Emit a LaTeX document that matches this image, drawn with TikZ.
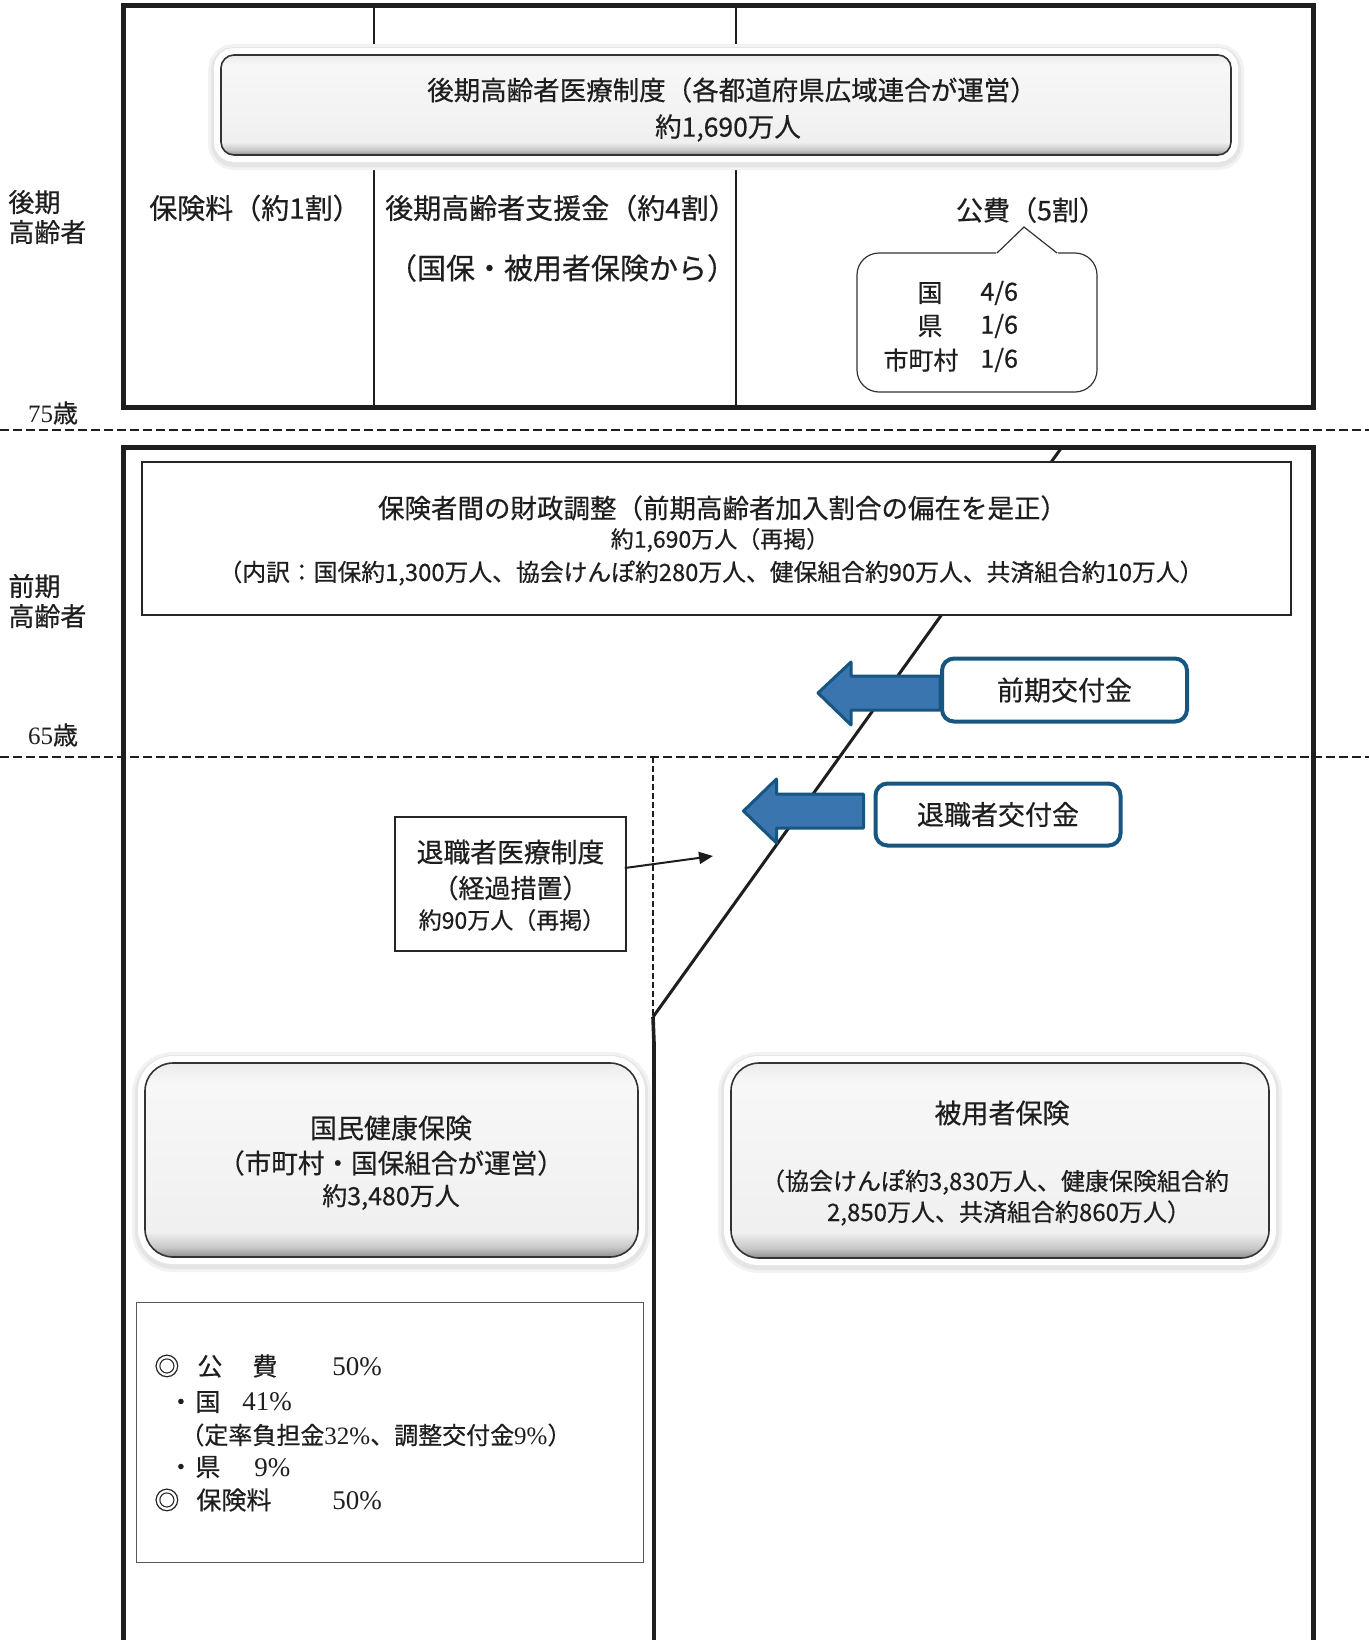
\documentclass[tikz,border=0pt]{standalone}
\usepackage{fontspec}
\setmainfont{Noto Sans CJK JP}[FakeBold=0.5]
\newfontfamily\sr{Liberation Serif}
\usetikzlibrary{arrows.meta,calc}
\pgfdeclareverticalshading{glossfill}{100bp}{color(0bp)=(black!45); color(25bp)=(black!45); color(27.5bp)=(black!22); color(31.5bp)=(black!6); color(70bp)=(black!3); color(75bp)=(black!8); color(100bp)=(black!8)}
\definecolor{bluebord}{RGB}{22,86,128}
\definecolor{bluefill}{RGB}{58,117,176}
\definecolor{ink}{RGB}{30,30,30}
\newcommand\dg[1]{{\sr\fontsize{13.5}{14}\selectfont #1}}
\tikzset{
  frame/.style={line width=2.5pt, draw=ink},
  colline/.style={line width=1.2pt, draw=ink},
  dashline/.style={line width=1.2pt, draw=ink, dash pattern=on 4.5pt off 2pt},
  vdash/.style={line width=1pt, draw=ink, dash pattern=on 3pt off 1.5pt},
  diag/.style={line width=1.5pt, draw=ink},
  glossbox/.style={rounded corners=#1, draw=black!80, line width=0.8pt, shading=glossfill,
    preaction={draw=black!5, line width=13pt, transform canvas={yshift=-1pt}},
    preaction={draw=black!10, line width=10pt, transform canvas={yshift=-1pt}},
    preaction={draw=white, line width=7pt}},
  rectbox/.style={draw=black!85, line width=0.8pt, fill=white, inner sep=0pt},
  thinbox/.style={draw=black!65, line width=0.5pt, fill=white, inner sep=0pt},
  bluebox/.style={draw=bluebord, line width=2pt, rounded corners=6pt, fill=white, inner sep=0pt, font=\fontsize{13.5}{16}\selectfont, text=ink},
  blockarrow/.style={fill=bluefill, draw=bluebord, line width=1.5pt, line join=round},
  smallarr/.style={line width=1pt, draw=ink, -{Triangle[length=7pt,width=6pt]}},
  callout/.style={draw=black!80, line width=0.6pt, fill=white},
  fs/.style={font=\fontsize{#1}{#1}\selectfont, inner sep=0pt, text=ink},
  lab/.style={font=\fontsize{13}{15}\selectfont, inner sep=0pt, align=left, anchor=west, text=ink},
  age/.style={font=\fontsize{12.5}{14}\selectfont, inner sep=0pt, text=ink},
}
\begin{document}
\begin{tikzpicture}[x=0.5pt,y=-0.5pt]
\useasboundingbox[fill=white] (0,0) rectangle (1369,1640);

% ---------- upper frame (75+)
\draw[frame] (123,5) rectangle (1313,407);
\draw[colline] (374,5) -- (374,407);
\draw[colline] (736,5) -- (736,407);

\node[glossbox=6.5pt, minimum width=505pt, minimum height=50pt] (kouki) at (726,105) {};
\node[fs=13.25] (koukiA) at (732,90) {後期高齢者医療制度（各都道府県広域連合が運営）};
\node[fs=13.25] (koukiB) at (728,128) {約1,690万人};

\node[fs=14] (hoken) at (255,208) {保険料（約1割）};
\node[fs=14] (shien) at (561,208) {後期高齢者支援金（約4割）};
\node[fs=14.5] (shienB) at (562,268) {（国保・被用者保険から）};
\node[fs=13.5] (kohi) at (1031,210) {公費（5割）};

% callout
\draw[callout, rounded corners=11pt] (857,253) rectangle (1097,392);
\fill[white] (996,256) -- (996,253) -- (1024,227) -- (1058,253) -- (1058,256) -- cycle;
\draw[line width=0.6pt, draw=black!80] (997,253) -- (1024,227) -- (1057,253);
\node[fs=12.5] (kuni) at (930,293) {国};
\node[fs=12.5] (ken) at (930,326) {県};
\node[fs=12.5] (shi) at (921,360) {市町村};
\node[fs=12.5, anchor=west] (kuniF) at (980,293) {4/6};
\node[fs=12.5, anchor=west] (kenF) at (980,326) {1/6};
\node[fs=12.5, anchor=west] (shiF) at (980,360) {1/6};

\node[lab] (koukiL) at (8,217) {後期\\高齢者};
\node[age] (a75) at (53,413) {{\sr 75}歳};

% ---------- dashed age lines
\draw[dashline] (0,430) -- (1369,430);
\draw[dashline] (0,757) -- (1369,757);

% ---------- lower frame
\draw[frame] (123,1650) -- (123,447) -- (1313,447) -- (1313,1650);
\coordinate (dtop) at (1062,447);
\coordinate (dbot) at (653,1017);
\draw[diag] (dtop) -- (dbot);
\draw[vdash] (653,757) -- (dbot);
\draw[line width=1.8pt, draw=ink] (dbot) -- (654,1043);
\draw[line width=2.4pt, draw=ink] (654,1043) -- (654,1650);

% financial adjustment box
\node[rectbox, minimum width=574.5pt, minimum height=76.5pt] (zaisei) at (716.5,538.5) {};
\node[fs=13.25] (zaiseiA) at (722.5,508) {保険者間の財政調整（前期高齢者加入割合の偏在を是正）};
\node[fs=11.5] (zaiseiB) at (720,540) {約1,690万人（再掲）};
\node[fs=11.9] (zaiseiC) at (711,573) {（内訳：国保約1,300万人、協会けんぽ約280万人、健保組合約90万人、共済組合約10万人）};

\node[lab] (zenkiL) at (8,601) {前期\\高齢者};
\node[age] (a65) at (53,735) {{\sr 65}歳};

% subsidy boxes and block arrows
\node[bluebox, minimum width=122.5pt, minimum height=31.5pt] (maekou) at (1064.5,690) {前期交付金};
\node[bluebox, minimum width=122.5pt, minimum height=31pt] (taikou) at (998,814.5) {退職者交付金};
\path[blockarrow] ($(maekou.west)+(0,-14)$) -- ++(-89,0) -- ++(0,-14) -- ++(-33,31) -- ++(33,32) -- ++(0,-15) -- ++(89,0) -- cycle;
\path[blockarrow] ($(taikou.west)+(-10,-20.5)$) -- ++(-87,0) -- ++(0,-15) -- ++(-33,32) -- ++(33,32) -- ++(0,-15) -- ++(87,0) -- cycle;

% retiree box
\node[rectbox, minimum width=115.5pt, minimum height=67pt] (taiiryo) at (510.5,884) {};
\node[fs=13.4] (taiA) at (510.5,852) {退職者医療制度};
\node[fs=13] (taiB) at (510.5,888) {（経過措置）};
\node[fs=11.5] (taiC) at (512,920) {約90万人（再掲）};
\coordinate (ptarget) at (713,856);
\draw[smallarr] ($(taiiryo.east)+(-2,-16)$) -- (ptarget);

% national health insurance
\node[glossbox=14pt, minimum width=246.5pt, minimum height=97pt] (kokuho) at (391.5,1160) {};
\node[fs=13.5] (kokuA) at (391,1128) {国民健康保険};
\node[fs=13.3] (kokuB) at (391,1163) {（市町村・国保組合が運営）};
\node[fs=12.5] (kokuC) at (391,1197) {約3,480万人};

% employee insurance
\node[glossbox=14pt, minimum width=269pt, minimum height=97.5pt] (hiyou) at (1000,1160.5) {};
\node[fs=13.5] (hiyA) at (1002,1113) {被用者保険};
\node[fs=12] (hiyB) at (995,1182) {（協会けんぽ約3,830万人、健康保険組合約};
\node[fs=12] (hiyC) at (1009,1213) {2,850万人、共済組合約860万人）};

% public expense box
\node[thinbox, minimum width=253.5pt, minimum height=130pt] (kohibox) at (389.5,1432) {};
\node[fs=12.5, anchor=west] (l1) at (154,1366) {\makebox[21.5pt][l]{◎}\makebox[27.5pt][l]{公}\makebox[40pt][l]{費}\dg{50\%}};
\node[fs=12.5, anchor=west] (l2) at (168,1402) {\makebox[13.5pt][l]{・}\makebox[23.5pt][l]{国}\dg{41\%}};
\node[fs=12, anchor=west] (l3) at (180,1435) {（定率負担金{\sr\fontsize{12.5}{13}\selectfont 32\%}、調整交付金{\sr\fontsize{12.5}{13}\selectfont 9\%}）};
\node[fs=12.5, anchor=west] (l4) at (168,1467) {\makebox[13.5pt][l]{・}\makebox[29.5pt][l]{県}\dg{9\%}};
\node[fs=12.5, anchor=west] (l5) at (154,1500) {\makebox[21pt][l]{◎}\makebox[68pt][l]{保険料}\dg{50\%}};
\end{tikzpicture}
\end{document}
